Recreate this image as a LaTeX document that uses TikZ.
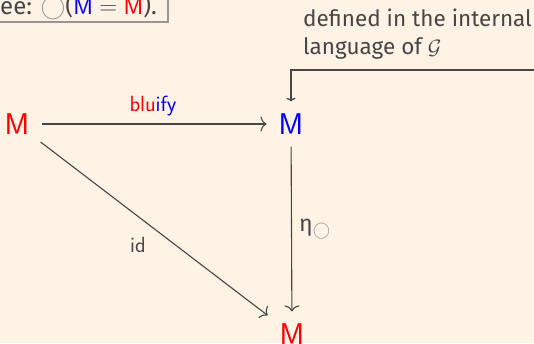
\documentclass[tikz,border=0pt]{standalone}
\usepackage{fontspec}
\setmainfont{Fira Sans}
\usepackage{amsmath}
\usetikzlibrary{arrows.meta}
\definecolor{bg}{RGB}{255,243,229}
\definecolor{ink}{RGB}{70,70,70}
\definecolor{mred}{RGB}{255,0,0}
\definecolor{mblue}{RGB}{0,0,255}
\definecolor{circ}{RGB}{150,150,150}
\tikzset{
  obj/.style={inner sep=0pt, font=\fontsize{30}{30}\selectfont\sffamily},
  lab/.style={inner sep=0pt, text=ink, font=\fontsize{22}{22}\selectfont\sffamily},
  arr/.style={-{To[length=6pt,width=15pt]}, draw=ink, line width=1.1pt, shorten <=12pt, shorten >=12pt},
  note/.style={inner sep=0pt, text=ink, align=left, font=\fontsize{22.5}{28}\selectfont},
}
\begin{document}
\begin{tikzpicture}[x=1pt,y=-1pt]
\useasboundingbox[fill=bg] (0,0) rectangle (534,343);
% top-left box (cropped)
\begin{scope}
\clip (0,0) rectangle (534,343);
\draw[draw=circ, line width=1.3pt] (-20,-20) rectangle (168,22);
\node[inner sep=0pt, text=ink, font=\fontsize{24}{24}\selectfont, anchor=base east] (boxt) at (157,14)
  {ee: {\color{circ}$\bigcirc$}({\sffamily\color{mblue}M} $=$ {\sffamily\color{mred}M}).};
\end{scope}
% objects
\node[obj, text=mred] (A) at (17,124) {M};
\node[obj, text=mblue] (B) at (291,124) {M};
\node[obj, text=mred] (C) at (292,334) {M};
% arrows
\draw[arr] (A) -- (B);
\draw[arr] (B) -- (C);
\draw[arr, shorten <=14pt, shorten >=15pt] (A) -- (C);
% labels
\node[lab] (l1) at (153,106) {{\color{mred}blu}{\color{mblue}ify}};
\node[lab] (l2) at (138,245) {id};
\node[lab, anchor=west] (l3) at (299,229) {\fontsize{23}{23}\selectfont\rmfamily η$_{\color{circ}\bigcirc}$};
% annotation
\node[note, anchor=north west] (n) at (303,9) {defined in the internal\\language of $\mathcal{G}$};
\coordinate (R) at (534,70);
\draw[-{To[length=3.5pt,width=9pt]}, draw=ink, line width=1.3pt, shorten >=12pt] (R) -| (B);
\end{tikzpicture}
\end{document}
